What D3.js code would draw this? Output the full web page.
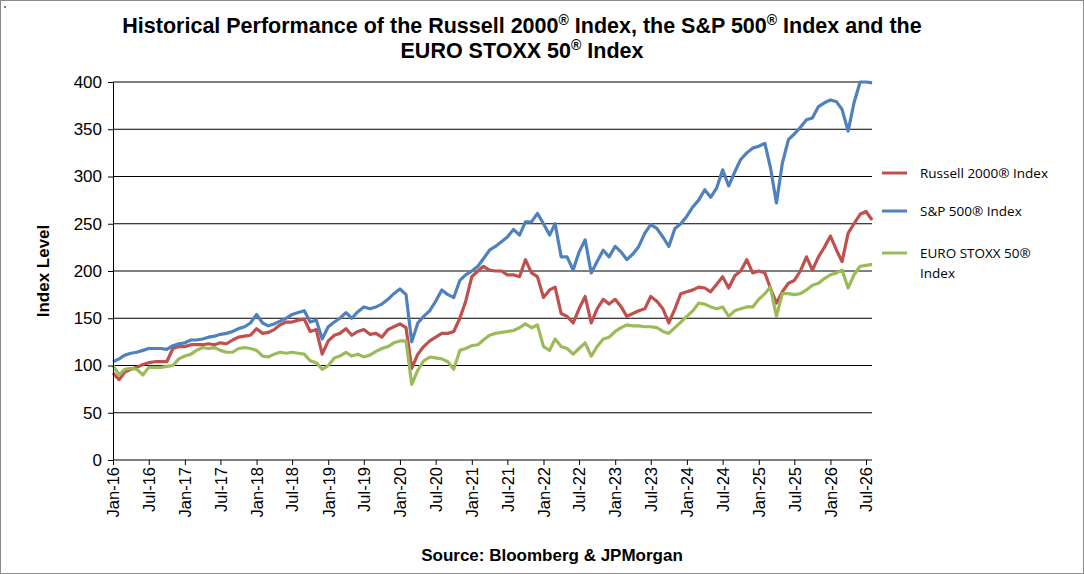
<!DOCTYPE html>
<html><head><meta charset="utf-8">
<script src="https://cdn.jsdelivr.net/npm/d3@7"></script>
<style>
body{margin:0;background:#fff;}
svg{display:block;font-family:Arial,"Liberation Sans",sans-serif;}
</style></head>
<body><svg id="chart" width="1084" height="574"></svg>
<script>
const seriesNames = ["Russell 2000\u00AE Index", "S&P 500\u00AE Index", "EURO STOXX 50\u00AE Index"];
const colors = ["#C0504D", "#4F81BD", "#9BBB59"];
const yTicks = [0, 50, 100, 150, 200, 250, 300, 350, 400];

const russell = [
  92,85,93,96,98,101,103,104,104,104,118,120,
  120,122,122,122,123,122,124,123,127,130,131,132,
  139,134,135,138,143,146,146,148,149,136,138,112,
  126,132,134,139,132,136,138,133,134,130,138,141,
  144,140,97,112,120,126,130,134,134,136,150,168,
  194,200,205,201,200,200,196,196,194,212,198,194,
  172,180,183,155,152,145,160,173,145,160,170,165,
  170,162,152,155,158,160,173,168,160,145,160,176,
  178,180,183,182,178,186,194,182,195,200,212,198,
  200,198,182,166,178,187,190,200,215,201,215,225,
  237,222,210,240,250,260,263,254
];
const sp500 = [
  104,107,111,113,114,116,118,118,118,117,121,123,
  124,127,127,128,130,131,133,134,136,139,141,145,
  154,145,142,144,147,150,154,156,158,146,148,128,
  141,146,150,156,150,157,162,160,162,165,170,176,
  181,175,125,145,152,158,168,180,175,172,190,196,
  200,205,213,222,226,231,236,244,238,252,252,261,
  250,238,250,215,215,201,220,233,198,210,222,215,
  226,220,212,218,226,240,249,245,236,226,245,250,
  258,268,275,286,278,288,307,290,305,318,325,330,
  332,335,310,272,314,339,345,352,360,362,374,378,
  381,379,371,348,378,400,400,399
];
const eurostoxx = [
  100,90,96,97,96,90,98,98,98,99,100,107,
  110,112,116,119,118,119,116,114,114,118,119,118,
  116,110,109,112,114,113,114,113,112,105,103,96,
  100,108,110,114,110,112,109,111,115,118,120,124,
  126,126,80,95,105,109,108,107,104,96,116,118,
  121,122,127,132,134,135,136,137,140,144,140,143,
  120,116,128,120,118,112,118,124,110,120,128,130,
  136,140,143,142,142,141,141,140,136,134,140,146,
  152,158,166,165,162,160,162,152,158,160,162,162,
  170,176,183,152,176,176,175,176,180,185,187,192,
  196,198,201,182,196,205,206,207
];
const series = [russell, sp500, eurostoxx];
const startMonth = new Date(2016, 0, 1);
const months = russell.map((_, i) => d3.timeMonth.offset(startMonth, i));

const svg = d3.select("#chart");
svg.append("rect").attr("x", 0.5).attr("y", 0.5).attr("width", 1083).attr("height", 573)
  .attr("fill", "#fff").attr("stroke", "#8c8c8c");
svg.append("rect").attr("x", 4).attr("y", 6).attr("width", 2).attr("height", 2).attr("fill", "#4F81BD");

const x = d3.scaleTime().domain([new Date(2016, 0, 1), new Date(2026, 6, 1)]).range([113, 866]);
const y = d3.scaleLinear().domain([0, 400]).range([460, 82]);
const plotRight = 872;

// grid
svg.append("g").selectAll("line").data(yTicks.slice(1)).join("line")
  .attr("x1", 113).attr("x2", plotRight).attr("y1", (d) => y(d)).attr("y2", (d) => y(d))
  .attr("stroke", "#000").attr("stroke-width", 1);

const line = d3.line().x((d, i) => x(months[i])).y((d) => y(d));
[0, 2, 1].forEach((k) => {
  svg.append("path").datum(series[k]).attr("d", line).attr("fill", "none")
    .attr("stroke", colors[k]).attr("stroke-width", 3.2).attr("stroke-linejoin", "round");
});

const yAxis = svg.append("g").attr("transform", "translate(113,0)")
  .call(d3.axisLeft(y).tickValues(yTicks).tickSize(5).tickPadding(6));
yAxis.selectAll("text").attr("font-size", 17).attr("fill", "#000");
yAxis.selectAll("line,path").attr("stroke", "#000");

const xTicks = d3.range(0, 22).map((i) => d3.timeMonth.offset(startMonth, i * 6));
const xAxis = svg.append("g").attr("transform", "translate(0,460)")
  .call(d3.axisBottom(x).tickValues(xTicks).tickSize(5).tickFormat(d3.timeFormat("%b-%y")));
xAxis.select(".domain").attr("d", `M113,0H${plotRight}`).attr("stroke", "#000");
xAxis.selectAll("line").attr("stroke", "#000");
xAxis.selectAll("text").attr("font-size", 16.5).attr("fill", "#000")
  .attr("transform", "rotate(-90)").attr("text-anchor", "end")
  .attr("x", -7).attr("y", 0).attr("dy", "0.35em");

// title
const title = svg.append("text").attr("text-anchor", "middle").attr("font-weight", "bold")
  .attr("font-size", 21.5).attr("fill", "#000");
const t1 = title.append("tspan").attr("x", 522).attr("y", 33);
t1.append("tspan").text("Historical Performance of the Russell 2000");
t1.append("tspan").attr("font-size", 14).attr("dy", -8).text("\u00AE");
t1.append("tspan").attr("dy", 8).text(" Index, the S&P 500");
t1.append("tspan").attr("font-size", 14).attr("dy", -8).text("\u00AE");
t1.append("tspan").attr("dy", 8).text(" Index and the");
const t2 = svg.append("text").attr("text-anchor", "middle").attr("font-weight", "bold")
  .attr("font-size", 21.5).attr("fill", "#000").attr("x", 522).attr("y", 58);
t2.append("tspan").text("EURO STOXX 50");
t2.append("tspan").attr("font-size", 14).attr("dy", -8).text("\u00AE");
t2.append("tspan").attr("dy", 8).text(" Index");

svg.append("text").attr("transform", "translate(49,271) rotate(-90)").attr("text-anchor", "middle")
  .attr("font-weight", "bold").attr("font-size", 17).text("Index Level");
svg.append("text").attr("x", 552).attr("y", 561).attr("text-anchor", "middle")
  .attr("font-weight", "bold").attr("font-size", 17).text("Source: Bloomberg & JPMorgan");

// legend
const legendRows = [
  { y: 173, lines: ["Russell 2000\u00AE Index"] },
  { y: 211, lines: ["S&P 500\u00AE Index"] },
  { y: 253, lines: ["EURO STOXX 50\u00AE", "Index"] }
];
const lg = svg.append("g").attr("font-family", "'Open Sans',Carlito,sans-serif").attr("font-size", 13.5);
legendRows.forEach((r, k) => {
  lg.append("line").attr("x1", 882).attr("x2", 907).attr("y1", r.y).attr("y2", r.y)
    .attr("stroke", colors[k]).attr("stroke-width", 3);
  r.lines.forEach((t, j) => {
    lg.append("text").attr("x", 920).attr("y", r.y + 5 + j * 20).attr("fill", "#000").text(t);
  });
});
</script></body></html>
